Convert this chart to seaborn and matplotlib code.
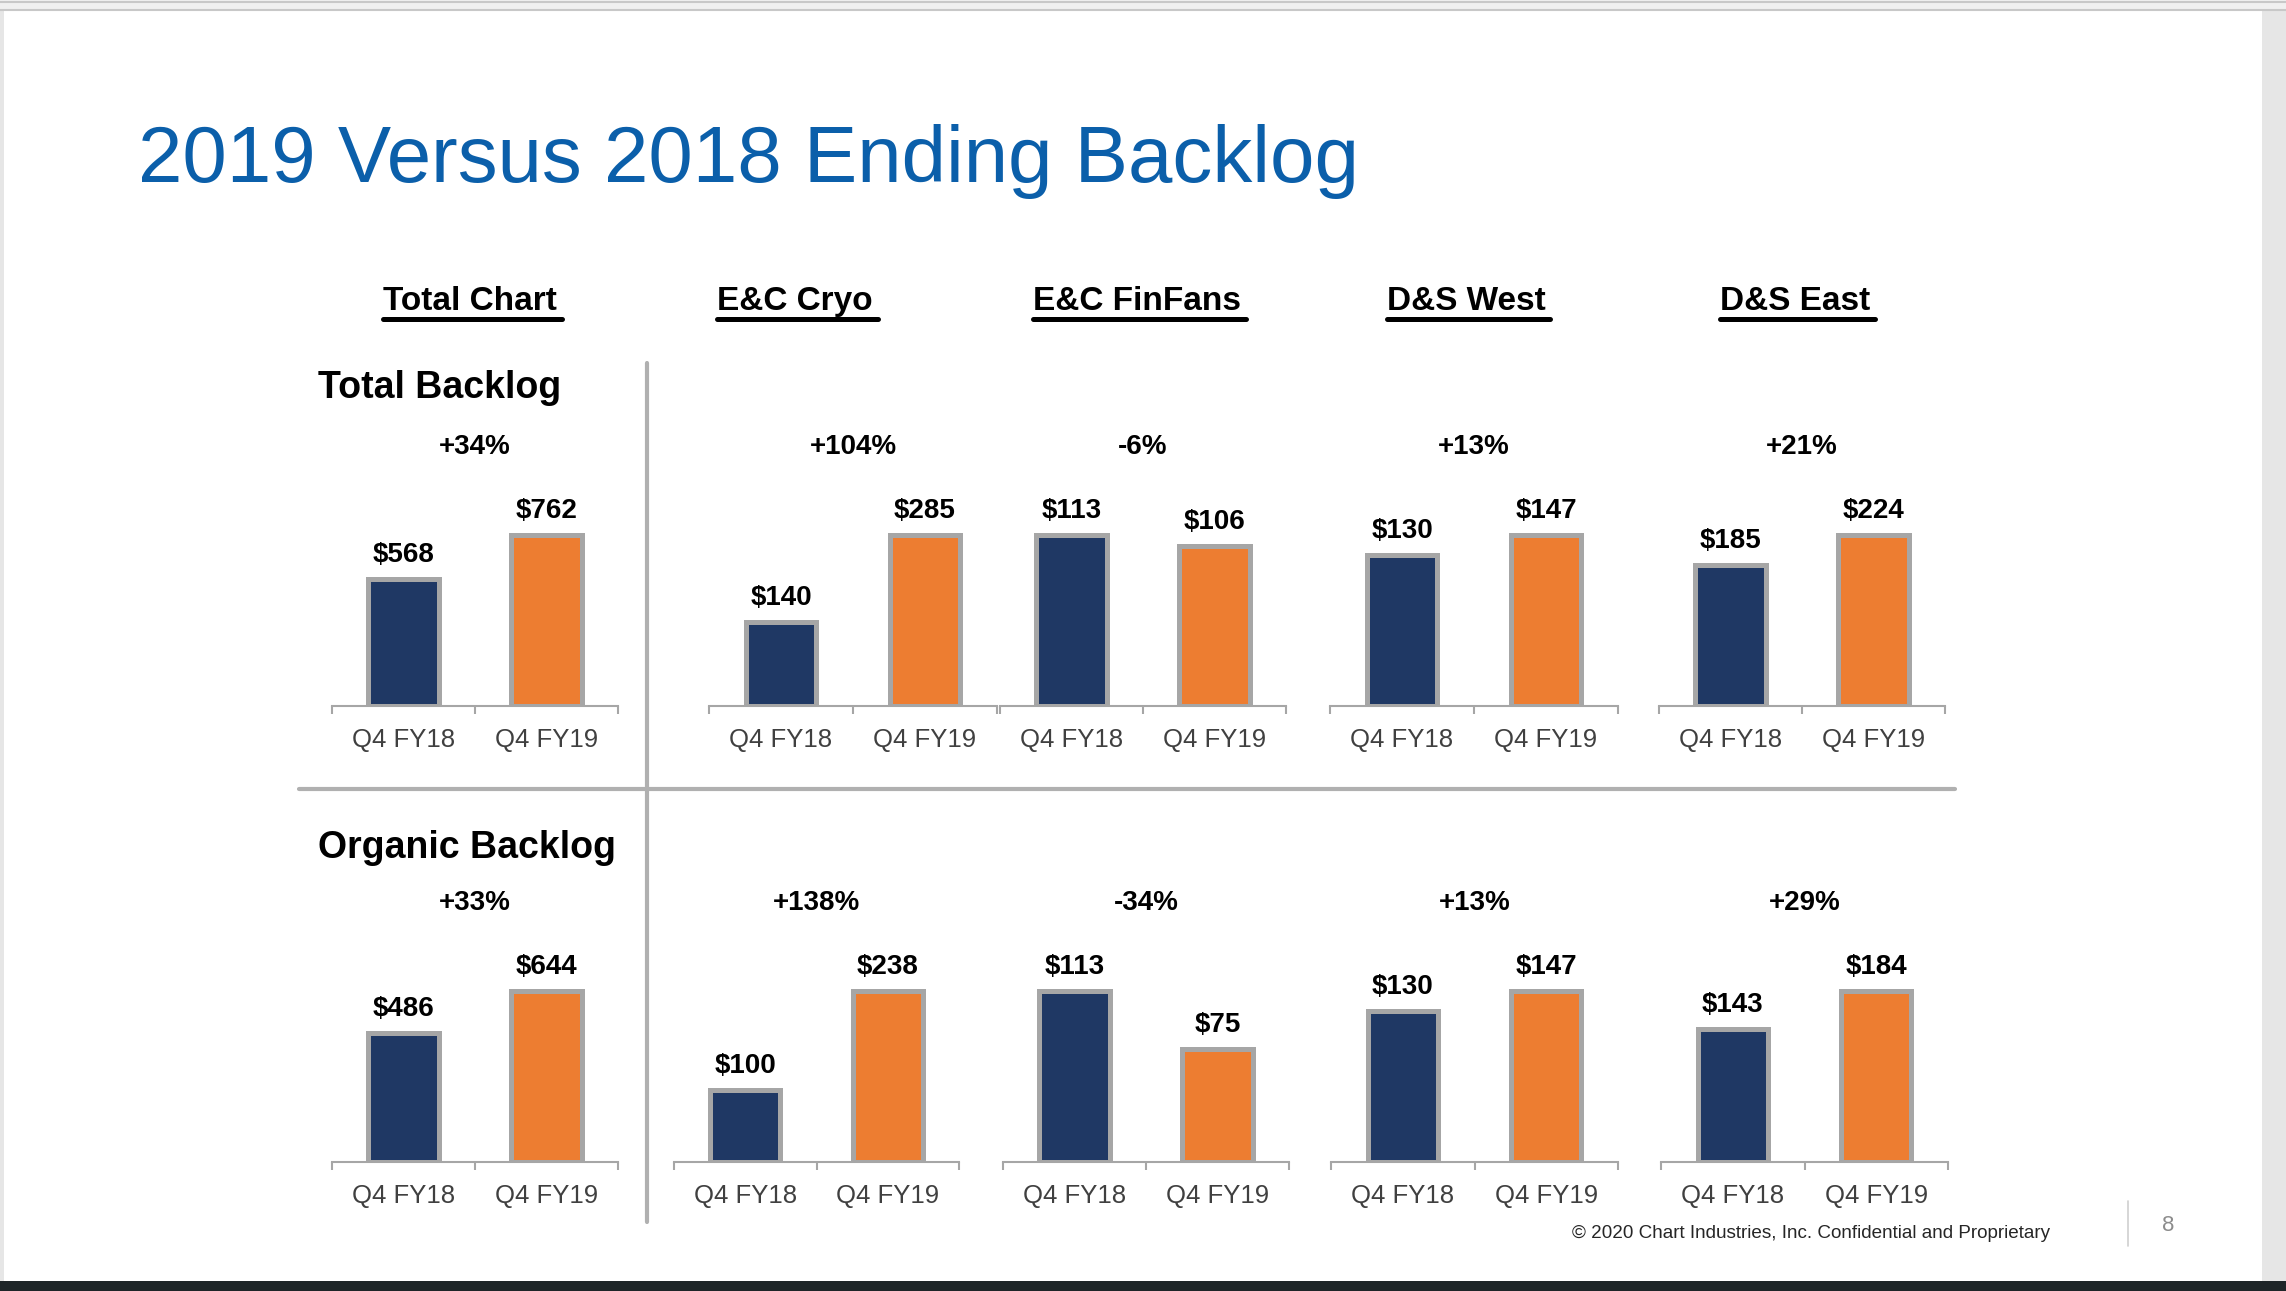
import pandas as pd
import matplotlib
matplotlib.use('Agg')
import matplotlib.pyplot as plt
import matplotlib.transforms as mtransforms
from matplotlib.lines import Line2D
from matplotlib.patches import Rectangle
import seaborn as sns

# data dari slide
segments = ['Total Chart', 'E&C Cryo', 'E&C FinFans', 'D&S West', 'D&S East']
periods = ['Q4 FY18', 'Q4 FY19']
total_fy18 = [568, 140, 113, 130, 185]
total_fy19 = [762, 285, 106, 147, 224]
total_pct = ['+34%', '+104%', '-6%', '+13%', '+21%']
organic_fy18 = [486, 100, 113, 130, 143]
organic_fy19 = [644, 238, 75, 147, 184]
organic_pct = ['+33%', '+138%', '-34%', '+13%', '+29%']
metrics = ['Total Backlog', 'Organic Backlog']

rows = []
for metric, v18, v19 in [('Total Backlog', total_fy18, total_fy19),
                         ('Organic Backlog', organic_fy18, organic_fy19)]:
    for seg, a, b in zip(segments, v18, v19):
        rows.append({'metric': metric, 'segment': seg, 'period': periods[0], 'value': a})
        rows.append({'metric': metric, 'segment': seg, 'period': periods[1], 'value': b})
df = pd.DataFrame(rows)
pct = {'Total Backlog': total_pct, 'Organic Backlog': organic_pct}

NAVY = '#1F3864'
ORANGE = '#ED7D31'
EDGE = '#A6A6A6'
DIVIDER = '#B0B0B0'
TITLE_BLUE = '#0B5FAA'

sns.set_theme(style='white')
plt.rcParams['font.family'] = ['Liberation Sans', 'DejaVu Sans']

W, H = 2286, 1291
fig = plt.figure(figsize=(W / 100, H / 100), dpi=100)
fig.patch.set_facecolor('white')


def fx(x):
    return x / W


def fy(y):
    return 1 - y / H


# layout dalam piksel
base_y = {'Total Backlog': 706, 'Organic Backlog': 1162}
col_x = {'Total Backlog': [(332, 618), (709, 997), (1000, 1286), (1330, 1618), (1659, 1945)],
         'Organic Backlog': [(332, 618), (674, 959), (1003, 1289), (1331, 1618), (1661, 1948)]}
pct_base = {'Total Backlog': 454, 'Organic Backlog': 910}
AX_H = 230
BAR_FRAC = 171 / AX_H

for metric in metrics:
    for i, seg in enumerate(segments):
        x0, x1 = col_x[metric][i]
        b = base_y[metric]
        ax = fig.add_axes([fx(x0), fy(b), (x1 - x0) / W, AX_H / H])
        sub = df[(df['metric'] == metric) & (df['segment'] == seg)]
        sns.barplot(data=sub, x='period', y='value', hue='period', order=periods,
                    hue_order=periods, palette=[NAVY, ORANGE], saturation=1,
                    width=0.49, edgecolor=EDGE, linewidth=3.6, legend=False, ax=ax)
        ax.set_facecolor('none')
        ax.set_xlim(-0.5, 1.5)
        ax.set_ylim(0, sub['value'].max() / BAR_FRAC)
        for s in ['top', 'left', 'right']:
            ax.spines[s].set_visible(False)
        ax.spines['bottom'].set_color(EDGE)
        ax.spines['bottom'].set_linewidth(1.5)
        ax.set_yticks([])
        ax.set_xlabel('')
        ax.set_ylabel('')
        ax.set_xticks([0, 1])
        ax.set_xticklabels(periods)
        ax.set_xticks([-0.5, 0.5, 1.5], minor=True)
        ax.tick_params(axis='x', which='major', length=0, pad=16,
                       labelsize=18.5, labelcolor='#404040')
        ax.tick_params(axis='x', which='minor', length=6, width=1.5,
                       color=EDGE, direction='out', bottom=True)
        for p in ax.patches:
            h = p.get_height()
            ax.annotate(f'${h:.0f}', (p.get_x() + p.get_width() / 2, h),
                        xytext=(0, 17), textcoords='offset pixels',
                        ha='center', va='baseline', fontsize=20,
                        fontweight='bold', color='black', annotation_clip=False)
        tr = mtransforms.blended_transform_factory(ax.transAxes, fig.transFigure)
        ax.text(0.5, fy(pct_base[metric]), pct[metric][i], transform=tr,
                ha='center', va='baseline', fontsize=20, fontweight='bold',
                color='black')

# judul
fig.text(fx(138), fy(182), '2019 Versus 2018 Ending Backlog', fontsize=57.5,
         color=TITLE_BLUE, ha='left', va='baseline')

# header kolom
header_x = [470, 795, 1137, 1466, 1795]
headers = []
for seg, hx in zip(segments, header_x):
    t = fig.text(fx(hx), fy(310), seg, fontsize=24, fontweight='bold',
                 ha='center', va='baseline', color='black')
    headers.append(t)

# label baris
fig.text(fx(318), fy(398), 'Total Backlog', fontsize=27, fontweight='bold',
         ha='left', va='baseline', color='black')
fig.text(fx(318), fy(858), 'Organic Backlog', fontsize=27, fontweight='bold',
         ha='left', va='baseline', color='black')

# garis pemisah
fig.add_artist(Line2D([fx(647), fx(647)], [fy(363), fy(1222)], color=DIVIDER, lw=3))
fig.add_artist(Line2D([fx(299), fx(1955)], [fy(789), fy(789)], color=DIVIDER, lw=3))

# footer
fig.text(fx(2050), fy(1238), '\u00a9 2020 Chart Industries, Inc. Confidential and Proprietary',
         fontsize=13.6, ha='right', va='baseline', color='#262626')
fig.text(fx(2168), fy(1231), '8', fontsize=16, ha='center', va='baseline', color='#8C8C8C')
fig.add_artist(Line2D([fx(2128), fx(2128)], [fy(1201), fy(1246)], color='#D0D0D0', lw=1.2))

# bingkai layar
fig.add_artist(Rectangle((0, fy(11)), 1, 11 / H, color='#F0F0F0', lw=0, zorder=0))
fig.add_artist(Line2D([0, 1], [fy(2), fy(2)], color='#C8C8C8', lw=1.5))
fig.add_artist(Line2D([0, 1], [fy(10), fy(10)], color='#C8C8C8', lw=1.5))
fig.add_artist(Rectangle((0, fy(1281)), fx(4), (1281 - 11) / H, color='#E6E6E6', lw=0))
fig.add_artist(Rectangle((fx(2262), fy(1281)), 1 - fx(2262), (1281 - 11) / H,
                         color='#E6E6E6', lw=0))
fig.add_artist(Rectangle((0, 0), 1, (H - 1281) / H, color='#1E2528', lw=0))

# garis bawah header
fig.canvas.draw()
renderer = fig.canvas.get_renderer()
for t in headers:
    bb = t.get_window_extent(renderer)
    fig.add_artist(Line2D([bb.x0 / W, bb.x1 / W + 5 / W], [fy(319), fy(319)],
                          color='black', lw=3.6))

fig.savefig('out.png', dpi=100, facecolor='white')
